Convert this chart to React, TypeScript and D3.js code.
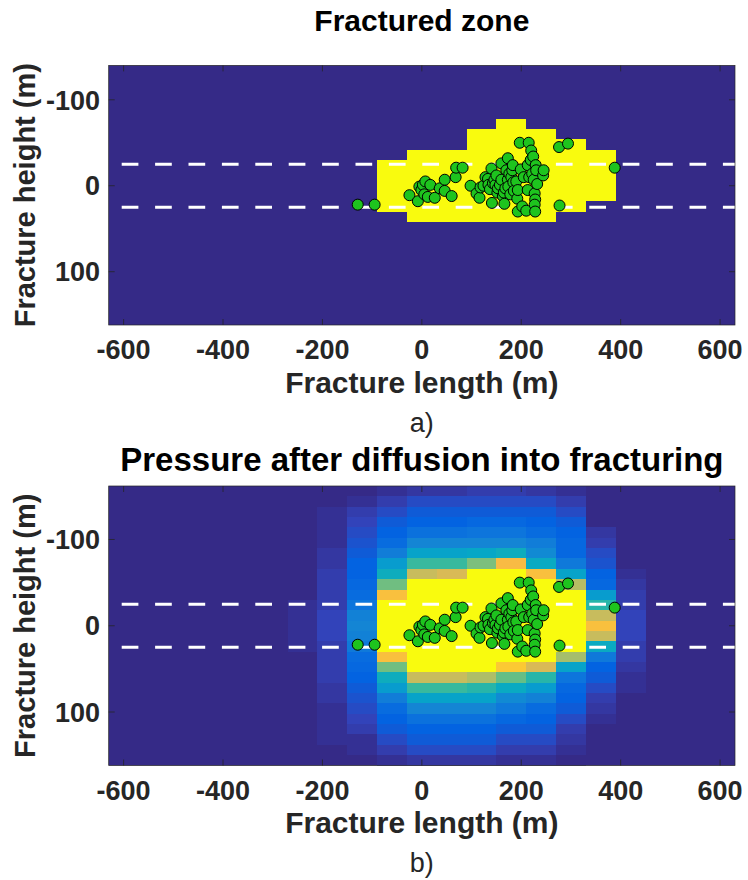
import React from 'react';
import * as d3 from 'd3';

// axis ticks and guide lines (m)
const xTicks = [-600, -400, -200, 0, 200, 400, 600];
const yTicks = [-100, 0, 100];
const reservoirEdges = [-25, 25];

// fractured zone: one entry per 60 m column, top / bottom edge in m
const zoneColumns = [-60, 0, 60, 120, 180, 240, 300, 360];
const zoneTop = [-30, -42, -42, -66, -78, -66, -54, -42];
const zoneBottom = [30, 42, 42, 42, 42, 42, 30, 18];

// pressure grid: 60 m x 12 m cells, values in % of colour range
const pressureColumns = [-240, -180, -120, -60, 0, 60, 120, 180, 240, 300, 360, 420];
const pressureRows = [-156, -144, -132, -120, -108, -96, -84, -72, -60, -48, -36, -24, -12, 0,
  12, 24, 36, 48, 60, 72, 84, 96, 108, 120, 132, 144, 156];
// one inner array per column, top row first
const pressureGrid = [
  [0, 0, 0, 0, 0, 0, 0, 0, 0, 0, 0, 2, 2, 2, 2, 2, 0, 0, 0, 0, 0, 0, 0, 0, 0, 0, 0],
  [0, 1, 2, 2, 3, 3, 4, 4, 5, 5, 6, 6, 7, 7, 7, 6, 6, 5, 5, 4, 4, 3, 3, 2, 2, 1, 0],
  [0, 3, 5, 7, 9, 10, 12, 13, 14, 15, 17, 20, 24, 26, 24, 21, 17, 15, 13, 12, 10, 9, 7, 5, 3, 2, 0],
  [2, 5, 8, 11, 14, 17, 23, 34, 42, 58, 83, 100, 100, 100, 100, 100, 83, 58, 42, 34, 23, 17, 14, 11, 8, 5, 2],
  [4, 8, 11, 14, 18, 25, 37, 51, 72, 100, 100, 100, 100, 100, 100, 100, 100, 100, 72, 51, 37, 25, 18, 14, 11, 8, 4],
  [4, 8, 11, 14, 18, 25, 37, 51, 75, 100, 100, 100, 100, 100, 100, 100, 100, 100, 72, 51, 37, 25, 18, 14, 11, 8, 4],
  [5, 8, 12, 15, 20, 26, 38, 60, 100, 100, 100, 100, 100, 100, 100, 100, 100, 100, 68, 48, 36, 25, 18, 14, 11, 8, 4],
  [5, 9, 12, 15, 20, 26, 42, 82, 100, 100, 100, 100, 100, 100, 100, 100, 100, 87, 57, 40, 28, 21, 15, 12, 9, 6, 3],
  [4, 8, 11, 14, 17, 22, 27, 40, 83, 100, 100, 100, 100, 100, 100, 100, 100, 76, 47, 34, 24, 17, 14, 11, 8, 5, 3],
  [3, 5, 8, 11, 14, 15, 15, 21, 36, 70, 100, 100, 100, 100, 100, 100, 66, 37, 20, 15, 14, 11, 8, 6, 4, 3, 1],
  [0, 0, 0, 1, 4, 6, 8, 10, 14, 15, 33, 48, 72, 83, 72, 40, 21, 14, 11, 8, 5, 4, 3, 1, 0, 0, 0],
  [0, 0, 0, 0, 0, 0, 0, 1, 3, 4, 5, 6, 7, 7, 7, 6, 5, 4, 3, 2, 1, 0, 0, 0, 0, 0, 0],
];

// microseismic events (length m, height m)
const eventX = [-129, -95, -25, -8, -5, -1, 2, 7, 5, 12, 17, 26, 36, 46, 46, 60, 68, 69, 82, 98,
  110, 116, 118, 124, 128, 133, 134, 137, 140, 141, 143, 146, 148, 150, 152, 153, 157, 160, 160, 163,
  165, 166, 168, 170, 173, 173, 174, 176, 178, 180, 182, 183, 184, 185, 190, 192, 193, 193, 197, 199,
  202, 205, 210, 213, 213, 215, 216, 219, 220, 222, 224, 225, 227, 228, 227, 228, 229, 230, 232, 244,
  245, 277, 276, 294, 388];
const eventZ = [22, 22, 11, 18, 1, 5, -1, -5, 10, 13, -1, 14, 3, -7, 6, 12, -10, -21, -21, 0,
  9, 14, 2, 0, -10, -8, -1, 4, -20, 20, -3, -7, -1, -12, 8, 3, -1, -26, -7, 12,
  8, 21, 3, -18, -32, -7, 1, -14, 10, -10, -18, -24, -4, 6, -5, 15, 5, 30, -50, -19,
  24, -10, 29, -24, 5, -50, -10, -30, -41, -14, -34, -7, 9, 16, 22, 30, -24, -18, -2, -12,
  -18, 23, -45, -49, -21];

const parulaStops = ['#352a87', '#3243ba', '#0363e1', '#0d75dc', '#1485d4', '#0998d1', '#06a7c6',
  '#15b1b4', '#38b99e', '#65be86', '#92bf73', '#b7bd64', '#d9ba56', '#f8bb44', '#fcce2e', '#f5e41d', '#f9fb0e'];
const parulaScale = d3.scaleLinear<string>()
  .domain(parulaStops.map((_, i) => Math.min(1, (i * 4) / 63)))
  .range(parulaStops)
  .interpolate(d3.interpolateRgb);
const parula = (v: number) => {
  const idx = Math.max(0, Math.min(63, Math.floor(v * 64)));
  return parulaScale(idx / 63);
};

const FONT = "'Liberation Sans', Arial, Helvetica, sans-serif";
const AXIS = '#262626';

const xScale = d3.scaleLinear().domain([-630, 630]).range([108.7, 735]);

type PanelProps = {
  id: string;
  yScale: d3.ScaleLinear<number, number>;
  title: string;
  titleY: number;
  titleSize: number;
  caption: string;
  children: React.ReactNode;
};

function Panel({ id, yScale, title, titleY, titleSize, caption, children }: PanelProps) {
  const [x0, x1] = xScale.range();
  const [y0, y1] = yScale.range();
  const cx = (x0 + x1) / 2;
  return (
    <g>
      <defs>
        <clipPath id={id}>
          <rect x={x0} y={y0} width={x1 - x0} height={y1 - y0} />
        </clipPath>
      </defs>
      <rect x={x0} y={y0} width={x1 - x0} height={y1 - y0} fill={parula(0)} />
      <g clipPath={`url(#${id})`}>
        {children}
        {reservoirEdges.map(z => (
          <line key={z} x1={x0} x2={x1} y1={yScale(z)} y2={yScale(z)}
            stroke="#fff" strokeWidth={3} strokeDasharray="16.7 16.7" strokeDashoffset={20.4} />
        ))}
        {eventX.map((ex, i) => (
          <circle key={i} cx={xScale(ex)} cy={yScale(eventZ[i])} r={5.5}
            fill="#1ec41e" stroke="#000" strokeWidth={1} />
        ))}
      </g>
      <rect x={x0} y={y0} width={x1 - x0} height={y1 - y0} fill="none" stroke={AXIS} strokeWidth={0.7} />
      {xTicks.map(t => (
        <g key={t}>
          <line x1={xScale(t)} x2={xScale(t)} y1={y1} y2={y1 - 6} stroke={AXIS} strokeWidth={0.8} />
          <line x1={xScale(t)} x2={xScale(t)} y1={y0} y2={y0 + 6} stroke={AXIS} strokeWidth={0.8} />
          <text x={xScale(t)} y={y1 + 34} textAnchor="middle" fontSize={27} fontWeight="bold"
            fontFamily={FONT} fill={AXIS}>{t}</text>
        </g>
      ))}
      {yTicks.map(t => (
        <g key={t}>
          <line x1={x0} x2={x0 + 6} y1={yScale(t)} y2={yScale(t)} stroke={AXIS} strokeWidth={0.8} />
          <line x1={x1} x2={x1 - 6} y1={yScale(t)} y2={yScale(t)} stroke={AXIS} strokeWidth={0.8} />
          <text x={100} y={yScale(t)} dy="0.36em" textAnchor="end" fontSize={27} fontWeight="bold"
            fontFamily={FONT} fill={AXIS}>{t}</text>
        </g>
      ))}
      <text x={cx} y={y1 + 67.5} textAnchor="middle" fontSize={30} fontWeight="bold"
        fontFamily={FONT} fill={AXIS}>Fracture length (m)</text>
      <text transform={`translate(35,${(y0 + y1) / 2}) rotate(-90)`} textAnchor="middle" fontSize={29}
        fontWeight="bold" fontFamily={FONT} fill={AXIS}>Fracture height (m)</text>
      <text x={cx} y={titleY} textAnchor="middle" fontSize={titleSize} fontWeight="bold"
        fontFamily={FONT} fill="#000">{title}</text>
      <text x={cx} y={y1 + 106.5} textAnchor="middle" fontSize={27}
        fontFamily={FONT} fill={AXIS}>{caption}</text>
    </g>
  );
}

export default function App() {
  const yTop = d3.scaleLinear().domain([-140, 162]).range([65.4, 325]);
  const yBottom = d3.scaleLinear().domain([-162, 162]).range([486, 765.5]);
  const colW = 60;
  const rowH = 12;

  return (
    <svg width={748} height={880} style={{ position: 'absolute', left: 0, top: 0, background: '#fff' }}>
      <Panel id="clipTop" yScale={yTop} title="Fractured zone" titleY={31} titleSize={30} caption="a)">
        {zoneColumns.map((c, i) => (
          <rect key={c} x={xScale(c - colW / 2)} width={xScale(c + colW / 2) - xScale(c - colW / 2)}
            y={yTop(zoneTop[i])} height={yTop(zoneBottom[i]) - yTop(zoneTop[i])}
            fill={parula(1)} shapeRendering="crispEdges" />
        ))}
      </Panel>
      <Panel id="clipBottom" yScale={yBottom} title="Pressure after diffusion into fracturing"
        titleY={471} titleSize={33} caption="b)">
        {pressureColumns.map((c, i) =>
          pressureRows.map((r, j) => {
            const v = pressureGrid[i][j];
            if (!v) return null;
            return (
              <rect key={`${c}_${r}`} x={xScale(c - colW / 2)}
                width={xScale(c + colW / 2) - xScale(c - colW / 2)}
                y={yBottom(r - rowH / 2)} height={yBottom(r + rowH / 2) - yBottom(r - rowH / 2)}
                fill={parula(v / 100)} shapeRendering="crispEdges" />
            );
          })
        )}
      </Panel>
    </svg>
  );
}
